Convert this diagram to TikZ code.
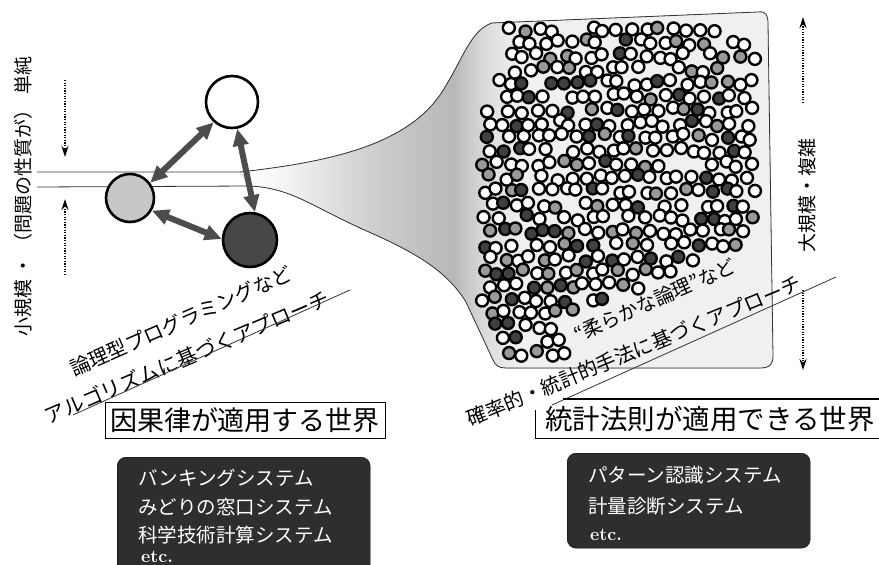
\documentclass[tikz,border=0pt]{standalone}
\usepackage{fontspec}
\newfontfamily\jpfont{Noto Sans CJK JP}
\usetikzlibrary{arrows.meta,calc}
\pgfdeclarehorizontalshading{funnelshade}{100bp}{color(0bp)=(white); color(25bp)=(white); color(29bp)=(black!4); color(38bp)=(black!20); color(45bp)=(black!28); color(48bp)=(black!14); color(51bp)=(black!6); color(75bp)=(black!6); color(100bp)=(black!6)}
\begin{document}
\begin{tikzpicture}[x=1pt,y=-1pt,
  jp/.style={font=\jpfont\fontsize{#1}{#1}\selectfont},
  edge/.style={draw=black!80, line width=0.8pt},
  bubble/.style={circle, draw=black, line width=2.6pt, minimum size=#1, inner sep=0pt},
  biarrow/.style={draw=black!70, line width=6pt, >={Triangle[length=17pt,width=15pt]}, <->},
  dotarrow/.style={line width=1.6pt, dash pattern=on 1.2pt off 1.4pt, -{Stealth[length=11pt,width=7pt]}},
  ring/.style={draw=black, line width=2.4pt},
  darkbox/.style={rounded corners=9pt, fill=black!82, draw=black, anchor=north west, inner sep=0pt},
  boxtext/.style={text=white, anchor=west, inner sep=0pt},
  etctext/.style={text=white, anchor=west, inner sep=0pt, font=\fontsize{18}{18}\selectfont\bfseries},
  diag/.style={rotate=#1, inner sep=0pt},
  titlebox/.style={draw=black, line width=1pt, minimum width=280pt, minimum height=36pt, inner sep=0pt}
]
\useasboundingbox (0,0) rectangle (879,565);

% funnel and container
\def\funnelpath{.. controls (330,162) and (405,145) .. (440,95) .. controls (462,62) and (470,30) .. (492,23) -- (758,12) .. controls (766,11) and (768,15) .. (768,24) -- (773,356) .. controls (773,364) and (770,368) .. (760,368) -- (506,368) .. controls (499,368) and (496,366) .. (493,360) -- (466,302) .. controls (445,268) and (410,250) .. (360,228) .. controls (310,205) and (290,188) .. (250,186)}
\fill[shading=funnelshade] (240,172) \funnelpath -- cycle;
\draw[edge] (37,172) -- (240,172) \funnelpath -- (37,187);

% many small circles
\pgfmathsetseed{11}
\foreach \j in {0,...,24}{
  \foreach \i in {0,...,21}{
    \pgfmathsetmacro\cx{484+13.4*\i+6.7*mod(\j,2)+3.2*rand}
    \pgfmathsetmacro\cy{29+13.5*\j+3.2*rand}
    \pgfmathsetmacro\tp{max(27, 105-(\cx-484)*3.2)}
    \pgfmathsetmacro\bt{\cx<565 ? 357 : 281-(\cx-656)*0.445}
    \pgfmathsetmacro\ok{(\cx<757)*(\cy>\tp)*(\cy<\bt)*(\cx>476+(\cy-300)*0.47)*(rnd>0.07)}
    \pgfmathsetmacro\fr{rnd}
    \ifdim\ok pt>0.5pt
      \ifdim\fr pt<0.64pt \def\ringcol{white}\else\ifdim\fr pt<0.84pt \def\ringcol{black!40}\else\def\ringcol{black!75}\fi\fi
      \draw[ring,fill=\ringcol] (\cx,\cy) circle[radius=6];
    \fi
  }
}

% three circles
\node[bubble=52pt, fill=white] (w) at (232,102) {};
\node[bubble=48pt, fill=black!22] (g) at (130,198) {};
\node[bubble=54pt, fill=black!72] (d) at (250,240) {};
\draw[biarrow] (w.228) -- (g.37);
\draw[biarrow] (w.-79) -- (d.80);
\draw[biarrow] (g.-30) -- (d.178);

% dotted arrows
\coordinate (la1) at (65,80);  \coordinate (la2) at (65,157);
\coordinate (lb1) at (65,275); \coordinate (lb2) at (65,199);
\coordinate (ra1) at (803,103); \coordinate (ra2) at (803,17);
\coordinate (rb1) at (803,290); \coordinate (rb2) at (803,370);
\draw[dotarrow] (la1) -- (la2);
\draw[dotarrow] (lb1) -- (lb2);
\draw[dotarrow] (ra1) -- (ra2);
\draw[dotarrow] (rb1) -- (rb2);

% vertical labels
\node[jp=19, rotate=90, inner sep=0pt] (vl) at (23,196) {小規模\hspace{4pt}・\hspace{4pt}（問題の性質が）\hspace{6pt}単純};
\node[jp=19, rotate=90, inner sep=0pt] (vr) at (807,195) {大規模・複雑};

% diagonal labels
\node[jp=20, diag=23.7] (l1) at (181,321) {論理型プログラミングなど};
\node[jp=20.5, diag=23] (l2) at (187,357) {アルゴリズムに基づくアプローチ};
\coordinate (u1a) at (73,415); \coordinate (u1b) at (350,290);
\draw[edge] (u1a) -- (u1b);

\node[jp=19.5, diag=24] (r1) at (655,300) {“柔らかな論理”など};
\node[jp=20, diag=22.5] (r2) at (634,351) {確率的・統計的手法に基づくアプローチ};
\coordinate (u2a) at (552,405); \coordinate (u2b) at (836,277);
\draw[edge] (u2a) -- (u2b);

% titles
\node[titlebox, jp=27] (t1) at (245,420) {因果律が適用する世界};
\node[jp=27.5, inner sep=0pt] (t2) at (710,419) {統計法則が適用できる世界};
\coordinate (t2a) at (563,399); \coordinate (t2b) at (879,399);
\coordinate (t2c) at (535,410); \coordinate (t2d) at (535,438); \coordinate (t2e) at (879,438);
\draw[line width=1.2pt] (t2a) -- (t2b);
\draw[line width=1pt] (t2c) -- (t2d) -- (t2e);

% dark boxes
\node[darkbox, minimum width=253pt, minimum height=118pt] (b1) at (117,457) {};
\node[boxtext, jp=19.5] (b1a) at (138,478) {バンキングシステム};
\node[boxtext, jp=19.5] (b1b) at (138,507) {みどりの窓口システム};
\node[boxtext, jp=19.5] (b1c) at (138,535) {科学技術計算システム};
\node[etctext] (b1d) at (141,557) {etc.};

\node[darkbox, minimum width=243pt, minimum height=95pt] (b2) at (567,453) {};
\node[boxtext, jp=19.5] (b2a) at (588,475) {パターン認識システム};
\node[boxtext, jp=19.5] (b2b) at (588,506) {計量診断システム};
\node[etctext] (b2c) at (590,535) {etc.};
\end{tikzpicture}
\end{document}
